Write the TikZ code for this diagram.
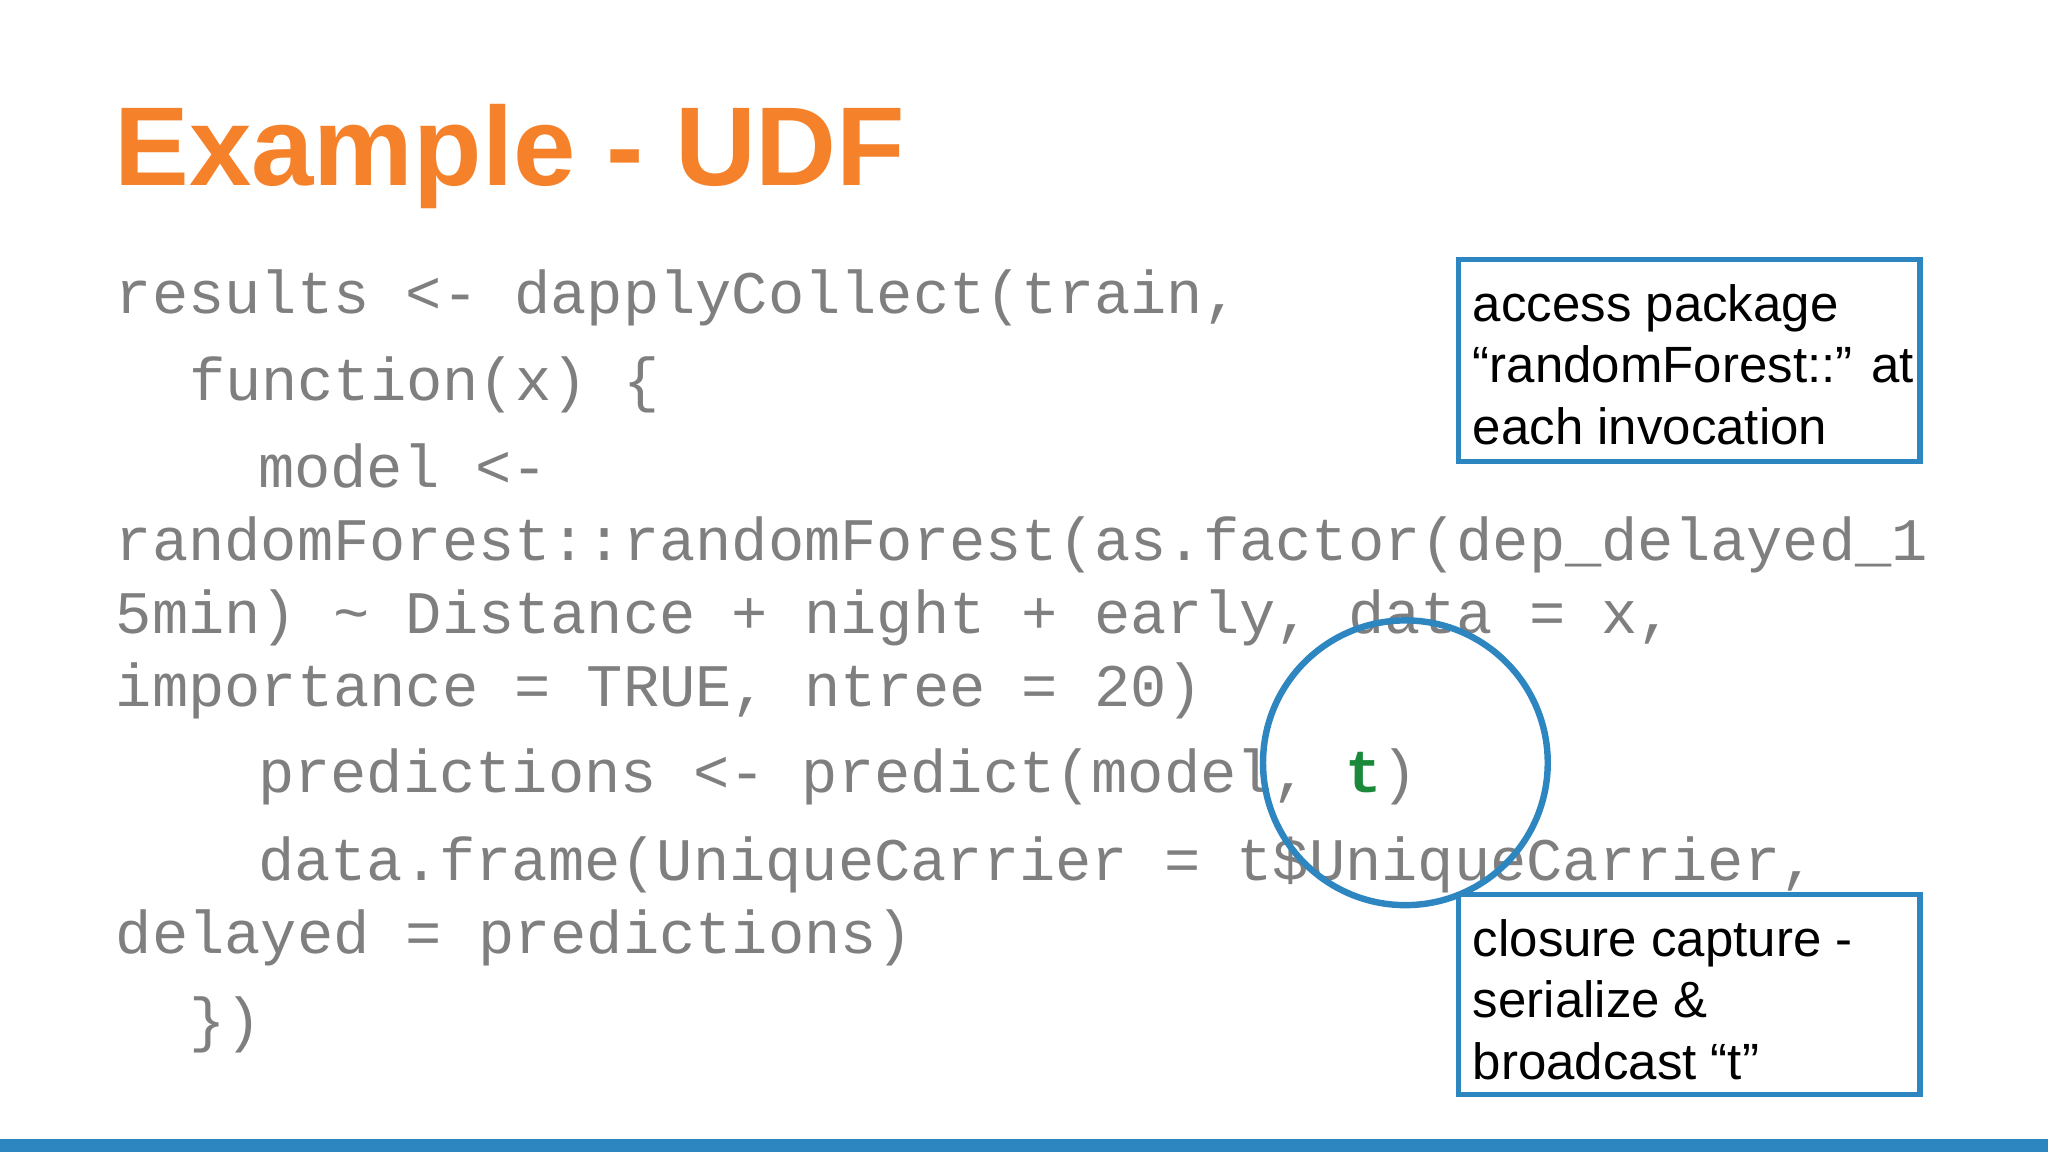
\documentclass[tikz,border=0pt]{standalone}
\usepackage{fontspec}
\setmainfont{Liberation Sans}
\setmonofont{Liberation Mono}
\definecolor{orng}{HTML}{F5822A}
\definecolor{blu}{HTML}{2E86C1}
\definecolor{codeg}{HTML}{7F7F7F}
\definecolor{grn}{HTML}{1A8A3A}
\begin{document}
\begin{tikzpicture}[x=0.01cm,y=-0.01cm,
  code/.style={anchor=base west,inner sep=0,text=codeg,font=\fontsize{13.15}{15}\ttfamily},
  note/.style={anchor=north west,inner sep=0,align=left,font=\fontsize{11.1}{13.4}\selectfont},
  notebox/.style={draw=blu,line width=1.1pt}]
\fill[white] (0,0) rectangle (1568,882);
\useasboundingbox (0,0) rectangle (1568,882);
\fill[blu] (0,872) rectangle (1568,882);
\node[anchor=base west,inner sep=0,text=orng,font=\fontsize{24.4}{30}\selectfont\bfseries] (title) at (87,142) {Example - UDF};
\node[code] (l1) at (88,240) {results <- dapplyCollect(train,};
\node[code] (l2) at (144,307) {function(x) \{};
\node[code] (l3) at (197,373) {model <-};
\node[code] (l4) at (88,429) {randomForest::randomForest(as.factor(dep\_delayed\_1};
\node[code] (l5) at (88,485) {5min) \textasciitilde{} Distance + night + early, data = x,};
\node[code] (l6) at (88,541) {importance = TRUE, ntree = 20)};
\node[code] (l7) at (197,607) {predictions <- predict(model, \textcolor{grn}{\textbf{t}})};
\node[code] (l8) at (197,674) {data.frame(UniqueCarrier = t\$UniqueCarrier,};
\node[code] (l9) at (88,730) {delayed = predictions)};
\node[code] (l10) at (144,797) {\})};
\draw[notebox] (1117,199) rectangle (1470,353);
\node[note] (n1) at (1127,217) {access package\\“randomForest::” at\\each invocation};
\draw[notebox] (1117,685) rectangle (1470,838);
\node[note] (n2) at (1127,703) {closure capture -\\serialize \&\\broadcast “t”};
\draw[blu,line width=1.4pt] (1076,584) circle (109);
\end{tikzpicture}
\end{document}
